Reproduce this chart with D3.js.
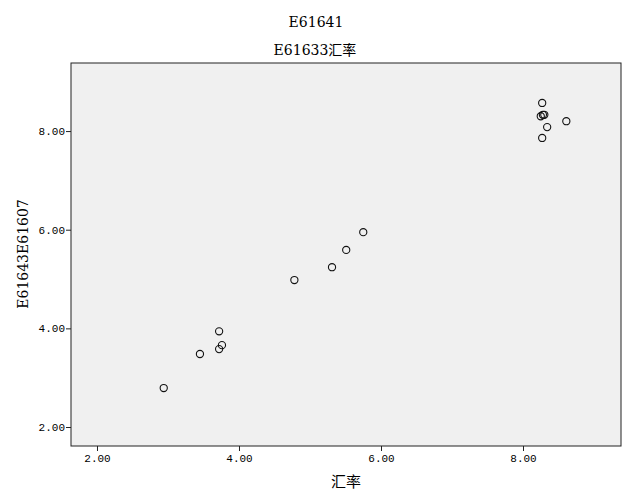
<!DOCTYPE html>
<html>
<head>
<meta charset="utf-8">
<script src="https://cdn.jsdelivr.net/npm/d3@7"></script>
<style>
  body { margin: 0; background: #fff; }
  text { fill: #000; }
</style>
</head>
<body>
<script>
// the points
var xValues = [2.94, 3.45, 3.72, 3.76, 3.72, 4.78, 5.31, 5.51, 5.75, 8.27, 8.25, 8.28, 8.30, 8.34, 8.61, 8.27];
var yValues = [2.79, 3.48, 3.94, 3.66, 3.58, 4.98, 5.24, 5.59, 5.95, 8.57, 8.30, 8.33, 8.33, 8.08, 8.20, 7.86];
var xTicks = [2, 4, 6, 8];
var yTicks = [2, 4, 6, 8];

var width = 629, height = 504;
var margin = {top: 63, right: 8, bottom: 58, left: 71};
var plotW = width - margin.left - margin.right,
    plotH = height - margin.top - margin.bottom;

var x = d3.scaleLinear().domain([1.634, 9.38]).range([0, plotW]);
var y = d3.scaleLinear().domain([1.615, 9.38]).range([plotH, 0]);

var svg = d3.select("body").append("svg")
    .attr("width", width)
    .attr("height", height);

var serif = "'DejaVu Serif', 'Noto Sans CJK SC', serif";

// titles
svg.append("text")
    .attr("x", 316).attr("y", 27)
    .attr("text-anchor", "middle")
    .style("font-family", serif).style("font-size", "14px")
    .text("E61641");
svg.append("text")
    .attr("x", 315).attr("y", 55)
    .attr("text-anchor", "middle")
    .style("font-family", serif).style("font-size", "14px")
    .text("E61633汇率");

var g = svg.append("g")
    .attr("transform", "translate(" + margin.left + "," + margin.top + ")");

// plot background and frame
g.append("rect")
    .attr("width", plotW).attr("height", plotH)
    .attr("fill", "#f0f0f0")
    .attr("stroke", "#222").attr("stroke-width", 1);

var fmt = d3.format(".2f");

var xAxis = g.append("g")
    .attr("transform", "translate(0," + plotH + ")")
    .call(d3.axisBottom(x).tickValues(xTicks).tickFormat(fmt).tickSize(5).tickPadding(3));
var yAxis = g.append("g")
    .call(d3.axisLeft(y).tickValues(yTicks).tickFormat(fmt).tickSize(5).tickPadding(1));

[xAxis, yAxis].forEach(function(a) {
  a.select(".domain").remove();
  a.selectAll(".tick line").attr("stroke", "#222");
  a.selectAll(".tick text")
      .style("font-family", "'Liberation Mono', monospace")
      .style("font-size", "11px")
      .attr("fill", "#000");
});

// axis titles
svg.append("text")
    .attr("x", 346).attr("y", 487)
    .attr("text-anchor", "middle")
    .style("font-family", serif).style("font-size", "15px")
    .text("汇率");
svg.append("text")
    .attr("transform", "translate(28,254) rotate(-90)")
    .attr("text-anchor", "middle")
    .style("font-family", serif).style("font-size", "14px")
    .text("E61643E61607");

// points
g.selectAll("circle")
    .data(xValues)
  .enter().append("circle")
    .attr("cx", function(d) { return x(d); })
    .attr("cy", function(d, i) { return y(yValues[i]); })
    .attr("r", 3.6)
    .attr("fill", "none")
    .attr("stroke", "#111")
    .attr("stroke-width", 1.1);
</script>
</body>
</html>
